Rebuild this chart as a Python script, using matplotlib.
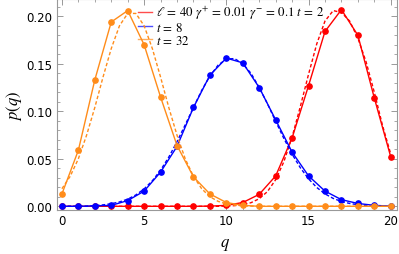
import numpy as np
import matplotlib as mpl
mpl.use('Agg')
import matplotlib.pyplot as plt
from matplotlib.lines import Line2D

plt.rcParams['mathtext.fontset'] = 'stix'
plt.rcParams['font.family'] = 'DejaVu Sans'

# lattice sites
q = np.arange(0, 21)

# exact distributions (points + solid lines)
p_t2 = [0, 0, 0, 0, 0, 0, 0, 0, 0, 0.0002, 0.001, 0.004, 0.0126, 0.032,
        0.072, 0.127, 0.184, 0.207, 0.180, 0.114, 0.052]
p_t8 = [0, 0, 0.0005, 0.001, 0.006, 0.016, 0.036, 0.063, 0.104, 0.138,
        0.156, 0.151, 0.125, 0.091, 0.057, 0.032, 0.016, 0.007, 0.003,
        0.001, 0.0002]
p_t32 = [0.013, 0.059, 0.133, 0.194, 0.206, 0.170, 0.115, 0.064, 0.031,
         0.013, 0.004, 0.001, 0, 0, 0, 0, 0, 0, 0, 0, 0]

# continuum approximation (dashed), read on a half-step grid
qc = np.arange(0, 20.5, 0.5)
c_t2 = [0]*20 + [0.0003, 0.0007, 0.0017, 0.0038, 0.008, 0.0155, 0.028,
                 0.047, 0.073, 0.105, 0.139, 0.171, 0.195, 0.206, 0.204,
                 0.195, 0.177, 0.152, 0.120, 0.085, 0.055]
c_t8 = [0, 0, 0, 0, 0.0008, 0.0015, 0.0027, 0.0046, 0.0075, 0.012, 0.0183,
        0.0269, 0.038, 0.0518, 0.068, 0.0858, 0.104, 0.122, 0.137, 0.1486,
        0.155, 0.1555, 0.150, 0.140, 0.125, 0.108, 0.0894, 0.0714, 0.0549,
        0.0406, 0.0289, 0.0198, 0.0131, 0.0083, 0.0051, 0.0030, 0.0017,
        0.0009, 0.0005, 0.0002, 0.0001]
c_t32 = [0.0185, 0.0315, 0.050, 0.0748, 0.104, 0.136, 0.166, 0.190, 0.203,
         0.203, 0.190, 0.166, 0.136, 0.104, 0.0748, 0.050, 0.0315, 0.0185,
         0.0101, 0.0052, 0.0025, 0.0011, 0.0005, 0.0002] + [0]*17

labels = [r'$\ell\, =\, 40\ \gamma^{+}\, =\, 0.01\ \gamma^{-}\, =\, 0.1\ t\, =\, 2$',
          r'$t\, =\, 8$', r'$t\, =\, 32$']
colors = ['#ff0000', '#0000ff', '#ff8c1a']

fig = plt.figure(figsize=(3.99, 2.55), dpi=100)
ax = fig.add_axes([0.142, 0.1725, 0.853, 0.8275])

for ys, yc, col in zip([p_t2, p_t8, p_t32], [c_t2, c_t8, c_t32], colors):
    ax.plot(qc, yc, ls=(0, (2.5, 1.6)), color=col, lw=1.0)
    ax.plot(q, ys, '-o', color=col, lw=1.0, ms=3.8, mec=col)

ax.set_xlim(-0.32, 20.38)
ax.set_ylim(-0.0039, 0.2182)
ax.set_xticks([0, 5, 10, 15, 20])
ax.set_xticks(np.arange(0, 21), minor=True)
ax.set_yticks([0, 0.05, 0.10, 0.15, 0.20])
ax.set_yticks(np.arange(0, 0.22, 0.01), minor=True)
ax.yaxis.set_major_formatter(mpl.ticker.FormatStrFormatter('%.2f'))
ax.tick_params(which='both', direction='in', top=True, right=True,
               color='#999999', labelsize=8.5, pad=3)
ax.tick_params(which='major', length=4.5, width=0.7)
ax.tick_params(which='minor', length=2.5, width=0.6)
for s in ax.spines.values():
    s.set_color('#999999')
    s.set_linewidth(0.8)

ax.set_xlabel(r'$q$', fontsize=12)
ax.set_ylabel(r'$p(q)$', fontsize=12)
ax.xaxis.set_label_coords(0.494, -0.115)
ax.yaxis.set_label_coords(-0.095, 0.5)

handles = [Line2D([], [], color=c, lw=1.0, alpha=0.7) for c in colors]
leg = ax.legend(handles, labels, loc='upper left', bbox_to_anchor=(0.232, 0.99),
                frameon=False, fontsize=9.3, handlelength=1.05,
                handletextpad=0.35, borderaxespad=0, borderpad=0.2,
                labelspacing=-0.02)
leg.set_zorder(1)

fig.savefig('out.png', dpi=100)
